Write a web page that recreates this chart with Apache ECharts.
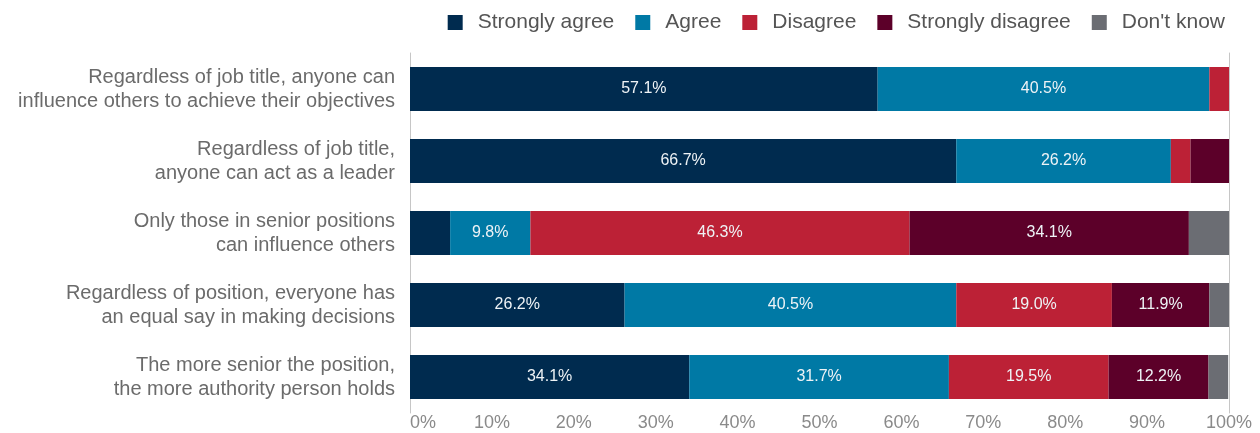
<!DOCTYPE html>
<html>
<head>
<meta charset="utf-8">
<script src="https://cdn.jsdelivr.net/npm/echarts@6/dist/echarts.min.js"></script>
<style>
  html, body { margin: 0; padding: 0; background: #fff; }
  #chart { width: 1260px; height: 433px; }
</style>
</head>
<body>
<div id="chart"></div>
<script>
// statements, top to bottom
const categories = [
  "Regardless of job title, anyone can\ninfluence others to achieve their objectives",
  "Regardless of job title,\nanyone can act as a leader",
  "Only those in senior positions\ncan influence others",
  "Regardless of position, everyone has\nan equal say in making decisions",
  "The more senior the position,\nthe more authority person holds"
];
const stronglyAgree    = [57.1, 66.7, 4.9, 26.2, 34.1];
const agree            = [40.5, 26.2, 9.8, 40.5, 31.7];
const disagree         = [2.4, 2.4, 46.3, 19.0, 19.5];
const stronglyDisagree = [0, 4.7, 34.1, 11.9, 12.2];
const dontKnow         = [0, 0, 4.9, 2.4, 2.4];
const xTicks = [0, 10, 20, 30, 40, 50, 60, 70, 80, 90, 100];

const font = "'Liberation Sans', Arial, sans-serif";

function seg(name, data, color) {
  return {
    name: name,
    type: "bar",
    stack: "total",
    data: data,
    barWidth: 44,
    itemStyle: { color: color },
    label: {
      show: true,
      position: "inside",
      color: "#eef3f6",
      fontFamily: font,
      fontSize: 16,
      // small slices carry no label
      formatter: function (p) {
        return p.value >= 8 ? p.value.toFixed(1) + "%" : "";
      }
    }
  };
}

const chart = echarts.init(document.getElementById("chart"));
chart.setOption({
  animation: false,
  legend: {
    top: 7,
    right: 30,
    itemWidth: 15,
    itemHeight: 15,
    itemGap: 21,
    icon: "rect",
    textStyle: { fontFamily: font, fontSize: 21, color: "#555", padding: [0, 0, 0, 10] }
  },
  grid: { left: 410, right: 31, top: 53, bottom: 20 },
  xAxis: {
    type: "value",
    min: 0,
    max: 100,
    interval: 10,
    axisLine: { show: false },
    axisTick: { show: false },
    splitLine: { show: false },
    axisLabel: {
      margin: 1,
      fontFamily: font,
      fontSize: 18,
      color: "#8a8a8a",
      alignMinLabel: "left",
      formatter: function (v) { return xTicks.indexOf(v) >= 0 ? v + "%" : ""; }
    }
  },
  yAxis: [
    {
      type: "category",
      data: categories,
      inverse: true,
      axisLine: { show: true, lineStyle: { color: "#c6c6c6", width: 1 } },
      axisTick: { show: false },
      axisLabel: {
        margin: 15,
        fontFamily: font,
        fontSize: 20,
        lineHeight: 24,
        color: "#6b6b6b",
        align: "right"
      }
    },
    {
      // right frame line
      type: "category",
      data: categories,
      inverse: true,
      position: "right",
      axisLine: { show: true, lineStyle: { color: "#c6c6c6", width: 1 } },
      axisTick: { show: false },
      axisLabel: { show: false }
    }
  ],
  series: [
    seg("Strongly agree", stronglyAgree, "#002b4f"),
    seg("Agree", agree, "#0079a5"),
    seg("Disagree", disagree, "#bc2136"),
    seg("Strongly disagree", stronglyDisagree, "#5c0029"),
    seg("Don't know", dontKnow, "#6b6d73")
  ]
});
</script>
</body>
</html>
